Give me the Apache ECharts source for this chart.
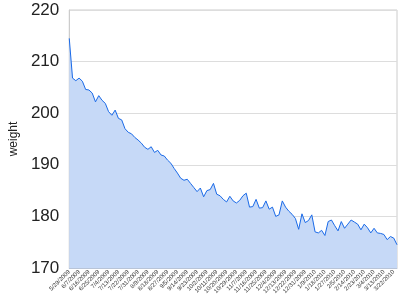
<!DOCTYPE html>
<html>
<head>
<meta charset="utf-8">
<script src="https://cdn.jsdelivr.net/npm/echarts@6/dist/echarts.min.js"></script>
<style>
html,body{margin:0;padding:0;background:#fff;}
#c{width:400px;height:300px;}
</style>
</head>
<body>
<div id="c"></div>
<script>
var dates = [
'5/29/2009','6/1/2009','6/4/2009','6/7/2009','6/10/2009','6/13/2009','6/16/2009','6/19/2009','6/22/2009','6/25/2009',
'6/28/2009','7/1/2009','7/4/2009','7/7/2009','7/10/2009','7/13/2009','7/16/2009','7/19/2009','7/22/2009','7/25/2009',
'7/28/2009','7/31/2009','8/3/2009','8/6/2009','8/9/2009','8/12/2009','8/15/2009','8/18/2009','8/21/2009','8/24/2009',
'8/27/2009','8/30/2009','9/2/2009','9/5/2009','9/8/2009','9/11/2009','9/14/2009','9/17/2009','9/20/2009','9/23/2009',
'9/26/2009','9/29/2009','10/2/2009','10/5/2009','10/8/2009','10/11/2009','10/14/2009','10/17/2009','10/20/2009','10/23/2009',
'10/26/2009','10/29/2009','11/1/2009','11/4/2009','11/7/2009','11/10/2009','11/13/2009','11/16/2009','11/19/2009','11/22/2009',
'11/25/2009','11/28/2009','12/1/2009','12/4/2009','12/7/2009','12/10/2009','12/13/2009','12/16/2009','12/19/2009','12/22/2009',
'12/25/2009','12/28/2009','12/31/2009','1/3/2010','1/6/2010','1/9/2010','1/12/2010','1/15/2010','1/18/2010','1/21/2010',
'1/24/2010','1/27/2010','1/30/2010','2/2/2010','2/5/2010','2/8/2010','2/11/2010','2/14/2010','2/17/2010','2/20/2010',
'2/23/2010','2/26/2010','3/1/2010','3/4/2010','3/7/2010','3/10/2010','3/13/2010','3/16/2010','3/19/2010','3/22/2010',
'3/25/2010'
];
var weight = [
214.5,206.8,206.3,206.8,206.2,204.6,204.5,203.9,202.2,203.4,
202.5,201.9,200.3,199.6,200.6,199.0,198.7,197.0,196.3,196.0,
195.3,194.8,194.2,193.4,193.0,193.5,192.4,192.8,191.9,191.7,
190.9,190.3,189.3,188.4,187.4,187.0,187.2,186.4,185.6,184.8,
185.5,183.8,185.0,185.2,186.4,184.3,184.0,183.3,182.8,183.9,
183.0,182.6,183.1,184.0,184.5,181.8,181.9,183.3,181.6,181.7,
183.0,181.4,181.8,180.0,180.3,183.0,181.8,181.0,180.4,179.6,
177.5,180.5,178.8,179.2,180.3,177.0,176.8,177.3,176.3,179.0,
179.3,178.2,177.2,179.0,177.7,178.5,179.3,178.9,178.5,177.4,
178.5,177.8,176.8,177.7,176.8,176.7,176.5,175.5,176.1,175.8,
174.5
];
var yTicks = [170, 180, 190, 200, 210, 220];
var yTitle = 'weight';

var chart = echarts.init(document.getElementById('c'), null, {renderer: 'canvas'});
chart.setOption({
  animation: false,
  backgroundColor: '#ffffff',
  grid: {left: 67, right: 3, top: 10, bottom: 32, show: true, borderColor: '#cccccc', borderWidth: 1},
  xAxis: {
    type: 'category',
    data: dates,
    boundaryGap: false,
    axisLine: {show: true, lineStyle: {color: '#b8c4d8'}},
    axisTick: {show: false},
    splitLine: {show: false},
    axisLabel: {
      interval: 2,
      rotate: 45,
      fontSize: 6,
      color: '#333',
      fontFamily: 'Liberation Sans, Arial, sans-serif',
      margin: 3
    }
  },
  yAxis: {
    type: 'value',
    min: yTicks[0],
    max: yTicks[yTicks.length - 1],
    interval: 10,
    name: yTitle,
    nameLocation: 'middle',
    nameGap: 48,
    nameTextStyle: {fontSize: 12, color: '#222', fontFamily: 'Liberation Sans, Arial, sans-serif'},
    axisLine: {show: true, lineStyle: {color: '#cccccc'}},
    axisTick: {show: false},
    splitLine: {show: true, lineStyle: {color: '#dddddd', width: 1}},
    axisLabel: {
      fontSize: 17,
      color: '#222',
      fontFamily: 'Liberation Sans, Arial, sans-serif',
      margin: 10
    }
  },
  series: [{
    type: 'line',
    data: weight,
    symbol: 'none',
    lineStyle: {color: '#1a6ae8', width: 1},
    areaStyle: {color: '#c6d9f7', opacity: 1},
    z: 2
  }]
});
</script>
</body>
</html>
